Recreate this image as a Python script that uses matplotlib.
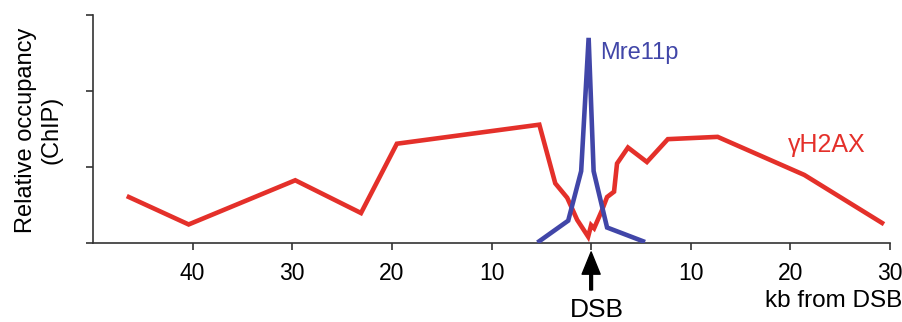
import matplotlib
matplotlib.use("Agg")
import matplotlib.pyplot as plt

plt.rcParams['font.family'] = ['Liberation Sans', 'DejaVu Sans']

# gammaH2AX profile (kb from DSB, relative occupancy)
h2ax_kb = [-46.4, -40.4, -29.7, -23.1, -19.5, -5.2, -3.6, -2.4, -1.4, -0.3, 0.0, 0.3,
           1.1, 1.6, 2.3, 2.6, 3.7, 5.6, 7.7, 12.7, 21.4, 29.2]
h2ax_val = [0.61, 0.25, 0.83, 0.40, 1.31, 1.56, 0.79, 0.60, 0.31, 0.09, 0.24, 0.20,
            0.44, 0.61, 0.68, 1.05, 1.26, 1.07, 1.37, 1.40, 0.90, 0.27]

# Mre11p profile
mre_kb = [-5.2, -2.3, -1.0, -0.25, 0.25, 1.6, 5.2]
mre_val = [0.03, 0.30, 0.95, 2.70, 0.95, 0.21, 0.03]

xticks = [-40, -30, -20, -10, 0, 10, 20, 30]
xtick_labels = ["40", "30", "20", "10", "", "10", "20", "30"]

red = "#e4302a"
blue = "#4146a8"
axis_col = "#333333"

fig = plt.figure(figsize=(9.03, 3.22), dpi=100)
ax = fig.add_axes([0.103, 0.2438, 0.8826, 0.7096])

ax.plot(h2ax_kb, h2ax_val, color=red, lw=3.3, solid_joinstyle='miter', zorder=2)
ax.plot(mre_kb, mre_val, color=blue, lw=3.3, solid_joinstyle='miter', zorder=3)

ax.set_xlim(-50, 30)
ax.set_ylim(0, 3)
ax.set_xticks(xticks)
ax.set_xticklabels(xtick_labels, fontsize=16.5)
ax.set_yticks([0, 1, 2, 3])
ax.set_yticklabels([])
for s in ['top', 'right']:
    ax.spines[s].set_visible(False)
for s in ['left', 'bottom']:
    ax.spines[s].set_color(axis_col)
    ax.spines[s].set_linewidth(1.2)
ax.tick_params(axis='both', colors=axis_col, width=1.2, length=5)
ax.tick_params(axis='x', pad=8, labelcolor='black')

ax.text(0.95, 2.42, "Mre11p", color=blue, fontsize=17, ha='left', va='baseline')
ax.text(19.8, 1.2, "γH2AX", color=red, fontsize=18, ha='left', va='baseline')

# DSB arrow
ax.annotate("", xy=(0, -0.037), xycoords=('data', 'axes fraction'),
            xytext=(0, -0.2035), textcoords=('data', 'axes fraction'),
            arrowprops=dict(facecolor='black', edgecolor='black', width=2,
                            headwidth=13, headlength=16, shrink=0),
            annotation_clip=False)
ax.text(0.6, -0.3217, "DSB", transform=ax.get_xaxis_transform(), fontsize=19,
        ha='center', va='baseline')

fig.text(0.999, 0.0475, "kb from DSB", fontsize=17.5, ha='right', va='baseline')
fig.text(0.0432, 0.596, "Relative occupancy\n(ChIP)", fontsize=17, rotation=90,
         ha='center', va='center', multialignment='center')

fig.savefig("out.png", dpi=100, facecolor='white')
